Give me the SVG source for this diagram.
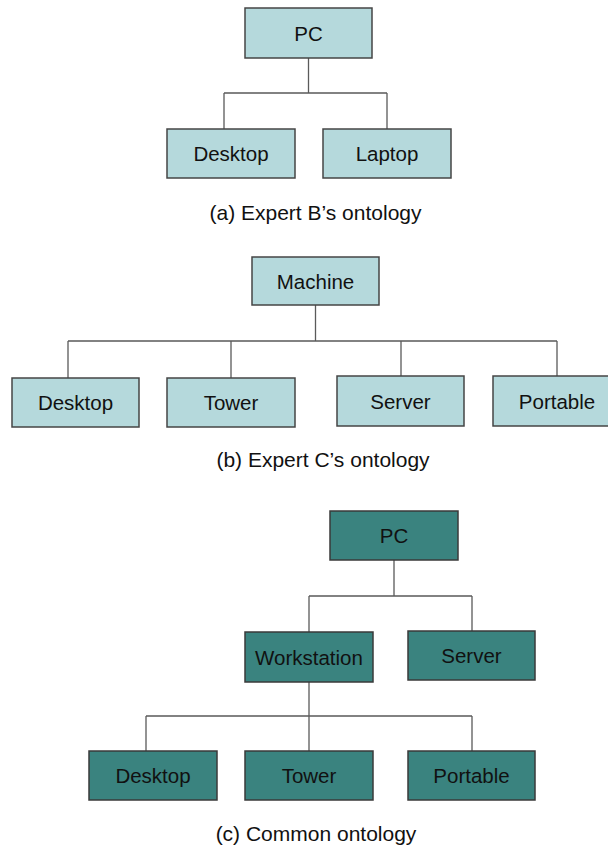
<svg xmlns="http://www.w3.org/2000/svg" width="608" height="849" viewBox="0 0 608 849">
<style>
.l rect{fill:#b5d9dc;stroke:#454545;stroke-width:1.5}
.d rect{fill:#3a837f;stroke:#3a3a3a;stroke-width:1.5}
text{font-family:"Liberation Sans",Arial,sans-serif;font-size:20.5px;fill:#111;text-anchor:middle}
.cap{font-size:21px}
#connectors path{fill:none;stroke:#5a5a5a;stroke-width:1.3}
</style>
<rect width="608" height="849" fill="#fff"/>
<g id="connectors">
<path d="M308.5 58V93M224 93H387M224 93V129M387 93V129"/>
<path d="M315.5 305V341M68 341H557M68 341V378M231 341V378M401 341V376M557 341V376"/>
<path d="M394 560V596M309 596H472M309 596V632M472 596V631"/>
<path d="M309 682V751M146 716H472M146 716V751M472 716V751"/>
</g>
<g id="a_pc" class="l"><rect x="245" y="8" width="127" height="50"/><text x="308.5" y="40.5">PC</text></g>
<g id="a_desktop" class="l"><rect x="167" y="129" width="128" height="49"/><text x="231" y="161">Desktop</text></g>
<g id="a_laptop" class="l"><rect x="323" y="129" width="128" height="49"/><text x="387" y="161">Laptop</text></g>
<text class="cap" x="315.5" y="220">(a) Expert B’s ontology</text>
<g id="b_machine" class="l"><rect x="252" y="257" width="127" height="48"/><text x="315.5" y="288.5">Machine</text></g>
<g id="b_desktop" class="l"><rect x="12" y="378" width="127" height="49"/><text x="75.5" y="410">Desktop</text></g>
<g id="b_tower" class="l"><rect x="167" y="378" width="128" height="49"/><text x="231" y="410">Tower</text></g>
<g id="b_server" class="l"><rect x="337" y="376" width="127" height="50"/><text x="400.5" y="408.5">Server</text></g>
<g id="b_portable" class="l"><rect x="493" y="376" width="128" height="50"/><text x="557" y="408.5">Portable</text></g>
<text class="cap" x="323" y="467">(b) Expert C’s ontology</text>
<g id="c_pc" class="d"><rect x="330" y="511" width="128" height="49"/><text x="394" y="543">PC</text></g>
<g id="c_workstation" class="d"><rect x="245" y="632" width="128" height="50"/><text x="309" y="664.5">Workstation</text></g>
<g id="c_server" class="d"><rect x="408" y="631" width="127" height="49"/><text x="471.5" y="663">Server</text></g>
<g id="c_desktop" class="d"><rect x="89" y="751" width="128" height="49"/><text x="153" y="783">Desktop</text></g>
<g id="c_tower" class="d"><rect x="245" y="751" width="128" height="49"/><text x="309" y="783">Tower</text></g>
<g id="c_portable" class="d"><rect x="408" y="751" width="127" height="49"/><text x="471.5" y="783">Portable</text></g>
<text class="cap" x="316" y="841">(c) Common ontology</text>
</svg>
